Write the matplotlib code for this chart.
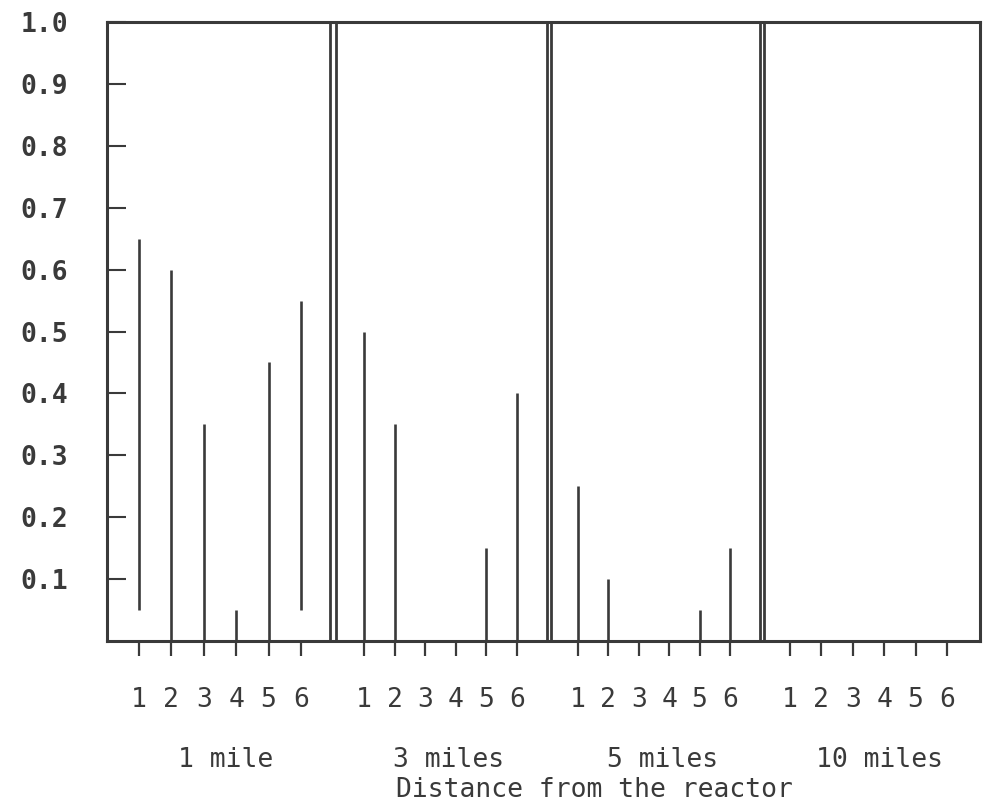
import matplotlib
matplotlib.use("Agg")
import matplotlib.pyplot as plt
import matplotlib.transforms as mtransforms

# ---- data ----
groups = ["1 mile", "3 miles", "5 miles", "10 miles"]
sites = ["1", "2", "3", "4", "5", "6"]
# lower and upper ends of each vertical range (None = no line)
low = [
    [0.05, 0.0, 0.0, 0.0, 0.0, 0.05],
    [0.0, 0.0, None, None, 0.0, 0.0],
    [0.0, 0.0, None, None, 0.0, 0.0],
    [None, None, None, None, None, None],
]
high = [
    [0.65, 0.60, 0.35, 0.05, 0.45, 0.55],
    [0.50, 0.35, None, None, 0.15, 0.40],
    [0.25, 0.10, None, None, 0.05, 0.15],
    [None, None, None, None, None, None],
]
yticks = [0.1, 0.2, 0.3, 0.4, 0.5, 0.6, 0.7, 0.8, 0.9, 1.0]
xlabel = "Distance from the reactor"

# ---- layout (x in axis-width units, as in the hand-drawn original) ----
panel_left = [0, 229, 444, 657]
panel_right = [223, 440, 653, 873]
first_off = [32, 28, 27, 26]
step = [32.4, 30.6, 30.4, 31.4]
ink = "#3a3a3a"
mono = "DejaVu Sans Mono"

W, H = 984, 808
fig = plt.figure(figsize=(W / 100, H / 100), dpi=100)
ax = fig.add_axes([107 / W, 1 - 641 / H, 873 / W, 619 / H])

xpos, xlab = [], []
for g, name in enumerate(groups):
    for i, s in enumerate(sites):
        x = panel_left[g] + first_off[g] + i * step[g]
        xpos.append(x)
        xlab.append(s)
        if high[g][i] is not None:
            ax.vlines(x, low[g][i], high[g][i], color=ink, lw=1.9)

# double separators between panels
for g in range(1, len(groups)):
    ax.axvline(panel_right[g - 1], color=ink, lw=2.0)
    ax.axvline(panel_left[g], color=ink, lw=2.0)

ax.set_xlim(0, panel_right[-1])
ax.set_ylim(0, 1.0)

ax.set_yticks(yticks)
ax.set_yticklabels([f"{v:.1f}" for v in yticks], fontfamily=mono,
                   fontsize=19, fontweight="bold", color=ink)
ax.tick_params(axis="y", direction="in", length=13.5, width=1.5,
               color=ink, pad=28)

ax.set_xticks(xpos)
ax.set_xticklabels(xlab, fontfamily=mono, fontsize=19, color=ink)
ax.tick_params(axis="x", direction="out", length=11, width=1.6,
               color=ink, pad=22)

for sp in ax.spines.values():
    sp.set_color(ink)
    sp.set_linewidth(2.2)

trans = mtransforms.blended_transform_factory(ax.transData, ax.transAxes)
for g, name in enumerate(groups):
    cx = (panel_left[g] + panel_right[g]) / 2 + 7
    ax.text(cx, -0.193, name, transform=trans, ha="center", va="center",
            fontfamily=mono, fontsize=19, color=ink)

ax.text(0.558, -0.240, xlabel, transform=ax.transAxes, ha="center",
        va="center", fontfamily=mono, fontsize=19, color=ink)

fig.savefig("out.png", dpi=100, facecolor="white")
